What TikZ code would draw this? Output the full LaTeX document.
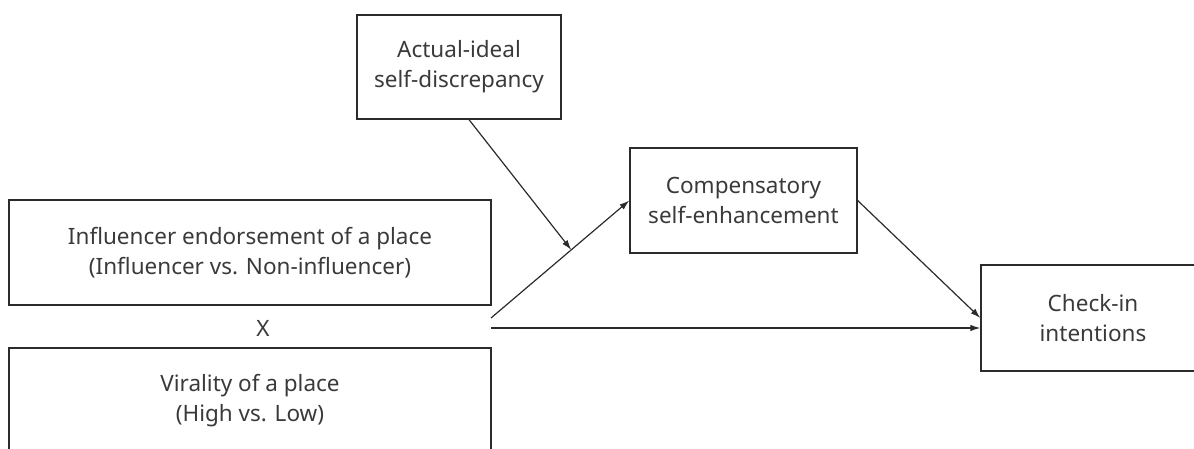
\documentclass[tikz,border=0pt]{standalone}
\usepackage{fontspec}
\setmainfont{Noto Sans}
\usetikzlibrary{arrows.meta,calc}
\definecolor{linec}{HTML}{2B2B2B}
\definecolor{textc}{HTML}{3A3A3A}
\begin{document}
\begin{tikzpicture}[x=1pt,y=-1pt,
  box/.style={draw=linec, line width=1.3pt, align=center, text=textc,
    font=\fontsize{22.5}{30}\selectfont, inner sep=0pt},
  lbl/.style={text=textc, font=\fontsize{22.5}{30}\selectfont, inner sep=0pt},
  conn/.style={draw=linec, line width=1.2pt, -{Latex[length=10pt,width=6.5pt]}}]
\useasboundingbox (0,0) rectangle (1194,449);
\clip (0,0) rectangle (1194,449);
\node[box, minimum width=482pt, minimum height=105pt] (inf) at (250,252.5)
  {Influencer endorsement of a place\\(Influencer vs. Non-influencer)};
\node[lbl] (x) at (263,328) {X};
\node[box, minimum width=482pt, minimum height=105pt] (vir) at (250,400.5)
  {Virality of a place\\(High vs. Low)};
\node[box, minimum width=204pt, minimum height=104pt] (act) at (459,67)
  {Actual-ideal\\self-discrepancy};
\node[box, minimum width=227pt, minimum height=105pt] (comp) at (743.5,200.5)
  {Compensatory\\self-enhancement};
\node[box, minimum width=224pt, minimum height=106pt] (check) at (1093,318)
  {Check-in\\intentions};
\coordinate (srcA) at (491,318);
\coordinate (srcB) at (491,328);
\coordinate (mid) at ($(srcA)!0.58!(comp.west)$);
\coordinate (actout) at ($(act.south)+(10,0)$);
\draw[conn] (srcA) -- (comp.west);
\draw[conn] (srcB) -- (srcB -| check.west);
\draw[conn] (comp.east) -- (check.west);
\draw[conn] (actout) -- (mid);
\end{tikzpicture}
\end{document}
